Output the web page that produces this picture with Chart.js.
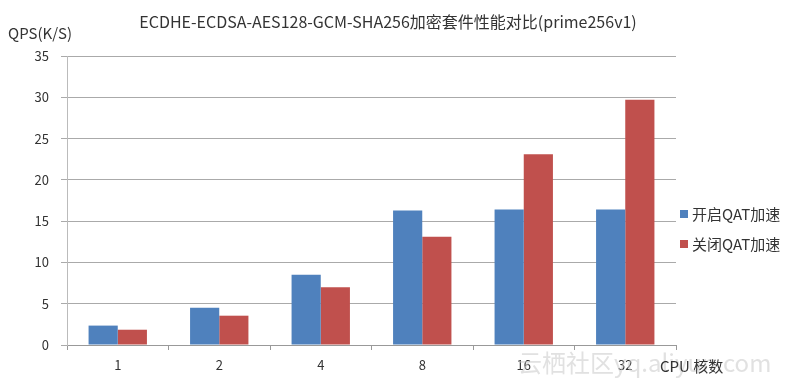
<!DOCTYPE html>
<html>
<head>
<meta charset="utf-8">
<script src="https://cdn.jsdelivr.net/npm/chart.js@4/dist/chart.umd.min.js"></script>
<style>
  html, body { margin: 0; padding: 0; background: #fff; }
  #wrap { width: 790px; height: 386px; position: relative; }
</style>
</head>
<body>
<div id="wrap"><canvas id="qpsChart"></canvas></div>
<script>
// QAT on/off comparison, ECDHE-ECDSA-AES128-GCM-SHA256
const cpuCores = ['1', '2', '4', '8', '16', '32'];
const qatOn = [2.35, 4.5, 8.5, 16.3, 16.4, 16.4];
const qatOff = [1.85, 3.55, 7.0, 13.1, 23.1, 29.7];
const yTicks = [0, 5, 10, 15, 20, 25, 30, 35];

const FONT = '"Noto Sans CJK SC", "Open Sans", sans-serif';
const BLUE = '#4F81BD';
const RED = '#C0504D';

// title, axis names, legend and watermark
const extras = {
    id: 'extras',
    afterDraw(chart) {
        const c = chart.ctx;
        c.save();
        c.fillStyle = '#333';
        c.textBaseline = 'middle';
        c.font = '16px ' + FONT;
        c.textAlign = 'center';
        c.fillText('ECDHE-ECDSA-AES128-GCM-SHA256加密套件性能对比(prime256v1)', 388, 22);
        c.textAlign = 'left';
        c.font = '15px ' + FONT;
        c.fillText('QPS(K/S)', 8, 33);

        c.fillStyle = 'rgba(200,200,200,0.55)';
        c.font = '24px ' + FONT;
        c.fillText('云栖社区yq.aliyun.com', 518, 363);

        c.fillStyle = '#333';
        c.font = '15px ' + FONT;
        c.fillText('CPU 核数', 660, 366);

        const items = [['开启QAT加速', BLUE, 214], ['关闭QAT加速', RED, 244]];
        items.forEach(([label, color, y]) => {
            c.fillStyle = color;
            c.fillRect(680, y - 4, 8, 8);
            c.fillStyle = '#333';
            c.fillText(label, 692, y);
        });
        c.restore();
    }
};

new Chart(document.getElementById('qpsChart'), {
    type: 'bar',
    data: {
        labels: cpuCores,
        datasets: [
            { label: '开启QAT加速', data: qatOn, backgroundColor: BLUE },
            { label: '关闭QAT加速', data: qatOff, backgroundColor: RED }
        ]
    },
    options: {
        responsive: true,
        maintainAspectRatio: false,
        animation: false,
        layout: { padding: { top: 56, right: 114, left: 0, bottom: 0 } },
        datasets: { bar: { categoryPercentage: 0.575, barPercentage: 1.0 } },
        scales: {
            x: {
                afterFit: s => { s.height = 41; },
                grid: { drawOnChartArea: false, tickLength: 5, color: '#999', offset: true },
                border: { color: '#999' },
                ticks: { color: '#333', font: { family: FONT, size: 13 }, padding: 7 }
            },
            y: {
                min: 0,
                max: 35,
                afterFit: s => { s.width = 67; },
                afterBuildTicks: s => { s.ticks = yTicks.map(v => ({ value: v })); },
                grid: { color: '#aaa', tickLength: 6 },
                border: { color: '#bbb' },
                ticks: { color: '#333', font: { family: FONT, size: 13 }, padding: 12 }
            }
        },
        plugins: {
            legend: { display: false },
            tooltip: { enabled: false }
        }
    },
    plugins: [extras]
});
</script>
</body>
</html>
